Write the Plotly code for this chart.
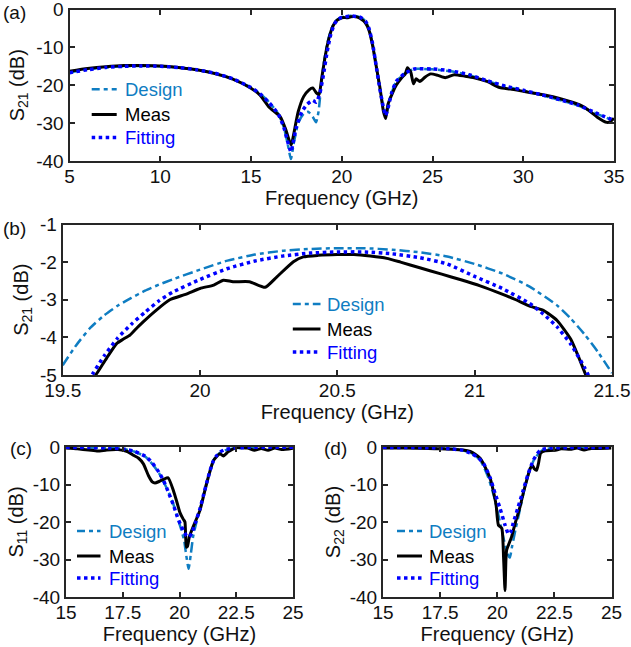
import plotly.graph_objects as go

# ---------------- data ----------------
# Panel (a): S21 wide band
a_design_f = [5, 6, 7, 8, 9, 10, 11, 12, 13, 14, 15, 15.5, 16, 16.5, 16.8, 17.0, 17.2, 17.35, 17.6, 17.9, 18.15, 18.4, 18.58, 18.72, 18.85, 19.0, 19.2, 19.4, 19.6, 19.8, 20.0, 20.5, 21.0, 21.3, 21.5, 21.7, 21.9, 22.1, 22.3, 22.42, 22.55, 22.75, 23.0, 23.5, 24.0, 25, 26, 27, 28, 29, 30, 31, 32, 33, 34, 35]
a_design_v = [-16.6, -15.8, -15.3, -15.0, -14.9, -15.0, -15.3, -15.9, -16.8, -18.3, -20.6, -22.2, -24.5, -27.5, -31.0, -35.0, -39.5, -35.5, -30.0, -27.5, -27.0, -28.3, -29.8, -27.0, -21.0, -14.5, -9.0, -5.5, -3.4, -2.5, -2.0, -1.65, -2.0, -3.0, -5.0, -9.0, -15.0, -21.0, -26.0, -28.0, -26.0, -22.0, -19.0, -16.8, -15.7, -15.8, -16.3, -17.3, -18.9, -20.3, -21.4, -22.6, -23.9, -25.3, -27.4, -29.4]

a_meas_f = [5, 6, 7, 8, 9, 10, 11, 12, 13, 14, 15, 15.5, 16, 16.3, 16.6, 16.9, 17.1, 17.22, 17.35, 17.6, 17.9, 18.2, 18.4, 18.6, 18.75, 18.9, 19.1, 19.3, 19.5, 19.7, 19.9, 20.1, 20.3, 20.5, 20.8, 21.0, 21.3, 21.5, 21.7, 21.9, 22.1, 22.3, 22.42, 22.55, 22.8, 23.0, 23.3, 23.5, 23.62, 23.8, 23.95, 24.1, 24.3, 24.6, 24.9, 25.3, 25.7, 26.2, 26.8, 27.3, 28.0, 28.7, 29.3, 30.0, 30.7, 31.3, 32.0, 32.7, 33.2, 33.6, 34.1, 34.6, 34.8, 35]
a_meas_v = [-16.3, -15.6, -15.1, -14.8, -14.8, -14.9, -15.3, -15.9, -16.9, -18.4, -20.8, -22.6, -25.8, -27.0, -28.2, -31.5, -34.5, -35.8, -33.0, -27.0, -23.0, -21.2, -20.7, -22.0, -22.5, -18.0, -12.0, -7.5, -4.5, -3.0, -2.4, -2.1, -2.2, -1.9, -1.9, -2.3, -3.5, -5.5, -9.5, -15.0, -20.5, -27.0, -28.8, -25.0, -22.0, -20.0, -18.0, -17.0, -15.4, -16.5, -19.6, -18.3, -19.0, -17.8, -17.0, -17.4, -18.0, -17.2, -17.6, -18.0, -19.0, -20.6, -21.0, -21.6, -22.2, -22.7, -23.5, -24.5, -25.4, -26.6, -28.5, -29.8, -29.6, -28.7]

a_fit_f = [5, 6, 7, 8, 9, 10, 11, 12, 13, 14, 15, 15.5, 16, 16.5, 16.8, 17.0, 17.2, 17.35, 17.5, 17.8, 18.1, 18.4, 18.6, 18.8, 19.0, 19.2, 19.4, 19.6, 19.8, 20.0, 20.5, 21.0, 21.3, 21.5, 21.7, 21.9, 22.1, 22.3, 22.42, 22.55, 22.75, 23.0, 23.5, 24.0, 25, 26, 27, 28, 29, 30, 31, 32, 33, 34, 35]
a_fit_v = [-16.7, -15.9, -15.3, -15.0, -14.9, -15.0, -15.3, -15.9, -16.8, -18.3, -20.6, -22.3, -24.6, -27.6, -31.0, -34.5, -37.6, -34.5, -31.0, -27.0, -25.0, -24.0, -24.5, -22.0, -17.0, -11.0, -6.5, -3.8, -2.6, -2.1, -1.73, -2.0, -3.0, -5.0, -9.0, -15.0, -21.0, -26.0, -28.0, -26.0, -22.0, -19.0, -16.8, -15.7, -15.7, -16.2, -17.2, -18.8, -20.2, -21.3, -22.5, -23.8, -25.2, -27.3, -29.3]

# Panel (b): S21 passband zoom
b_design_f = [19.5, 19.55, 19.6, 19.65, 19.7, 19.75, 19.8, 19.85, 19.9, 20.0, 20.1, 20.2, 20.3, 20.4, 20.5, 20.6, 20.7, 20.8, 20.9, 21.0, 21.1, 21.2, 21.3, 21.35, 21.4, 21.45, 21.5]
b_design_v = [-4.74, -4.2, -3.75, -3.42, -3.16, -2.95, -2.76, -2.6, -2.46, -2.2, -1.96, -1.8, -1.7, -1.65, -1.63, -1.63, -1.67, -1.74, -1.85, -2.05, -2.3, -2.65, -3.15, -3.5, -3.92, -4.4, -4.95]

b_meas_f = [19.6, 19.624, 19.66, 19.697, 19.72, 19.745, 19.77, 19.794, 19.84, 19.89, 19.95, 20.0, 20.05, 20.085, 20.12, 20.18, 20.237, 20.28, 20.34, 20.376, 20.43, 20.5, 20.56, 20.62, 20.68, 20.73, 20.8, 20.88, 20.95, 21.02, 21.1, 21.15, 21.2, 21.25, 21.3, 21.35, 21.38, 21.41]
b_meas_v = [-5.2, -4.96, -4.55, -4.16, -4.05, -3.94, -3.75, -3.58, -3.28, -3.0, -2.85, -2.7, -2.61, -2.48, -2.52, -2.52, -2.67, -2.39, -1.99, -1.86, -1.82, -1.8, -1.8, -1.84, -1.9, -2.0, -2.15, -2.32, -2.47, -2.63, -2.85, -3.0, -3.17, -3.28, -3.55, -4.05, -4.55, -5.1]

b_fit_f = [19.58, 19.61, 19.65, 19.7, 19.75, 19.8, 19.85, 19.9, 20.0, 20.1, 20.2, 20.3, 20.4, 20.5, 20.6, 20.7, 20.8, 20.9, 21.0, 21.1, 21.2, 21.25, 21.3, 21.35, 21.4, 21.42]
b_fit_v = [-5.3, -4.96, -4.5, -4.02, -3.65, -3.33, -3.03, -2.8, -2.46, -2.17, -1.97, -1.84, -1.76, -1.73, -1.73, -1.78, -1.88, -2.05, -2.38, -2.7, -3.1, -3.38, -3.72, -4.18, -4.8, -5.1]

# Panel (c): S11
c_design_f = [15, 16, 17, 17.5, 18.0, 18.5, 18.8, 19.1, 19.3, 19.54, 19.75, 19.9, 20.05, 20.2, 20.3, 20.4, 20.5, 20.6, 20.75, 20.9, 21.05, 21.2, 21.35, 21.5, 21.65, 21.8, 22.0, 22.4, 23, 24, 25]
c_design_v = [-0.1, -0.15, -0.3, -0.5, -1.2, -2.6, -4.5, -7.0, -9.3, -12.3, -15.6, -18.6, -21.5, -24.8, -29.0, -32.5, -28.5, -23.9, -20.0, -16.8, -13.0, -9.7, -6.3, -3.5, -2.3, -1.5, -0.9, -0.4, -0.2, -0.1, -0.1]

c_meas_f = [15, 15.5, 16.0, 16.4, 16.8, 17.3, 17.7, 17.97, 18.2, 18.41, 18.63, 18.8, 18.92, 19.1, 19.3, 19.5, 19.73, 19.9, 20.02, 20.17, 20.24, 20.3, 20.35, 20.43, 20.6, 20.9, 21.19, 21.5, 21.78, 21.93, 22.14, 22.5, 23.0, 23.3, 23.6, 23.9, 24.2, 24.5, 25]
c_meas_v = [-0.3, -0.5, -0.8, -1.1, -0.8, -0.7, -1.2, -2.2, -3.0, -4.5, -7.6, -9.3, -9.6, -9.2, -8.6, -8.2, -11.6, -15.0, -17.5, -19.3, -20.0, -26.7, -26.5, -24.0, -21.3, -16.9, -9.8, -3.6, -1.8, -2.4, -1.3, -0.2, -0.3, -0.9, -0.4, -0.9, -0.3, -0.7, -0.3]

c_fit_f = [15, 16, 17, 17.5, 18.0, 18.5, 18.8, 19.1, 19.3, 19.54, 19.75, 19.9, 20.05, 20.2, 20.3, 20.42, 20.55, 20.7, 20.9, 21.05, 21.2, 21.35, 21.5, 21.65, 21.8, 22.0, 22.4, 23, 25]
c_fit_v = [-0.1, -0.15, -0.3, -0.5, -1.1, -2.5, -4.2, -6.8, -9.0, -12.5, -15.8, -18.5, -20.8, -22.6, -23.6, -24.1, -22.8, -20.2, -16.5, -13.0, -9.5, -6.2, -3.6, -2.2, -1.3, -0.7, -0.3, -0.1, -0.1]

# Panel (d): S22
d_design_f = [15, 17, 18, 18.5, 19.0, 19.3, 19.6, 19.85, 20.1, 20.3, 20.45, 20.55, 20.65, 20.8, 21.0, 21.2, 21.4, 21.6, 21.8, 22.0, 22.5, 25]
d_design_v = [-0.1, -0.2, -0.5, -0.9, -2.0, -4.0, -8.0, -13.0, -19.5, -25.0, -28.5, -29.5, -26.5, -22.0, -16.5, -11.0, -6.5, -3.5, -1.8, -0.8, -0.2, -0.1]

d_meas_f = [15, 16, 17, 17.5, 18, 18.5, 18.82, 19.05, 19.25, 19.53, 19.7, 19.82, 19.95, 20.05, 20.2, 20.28, 20.34, 20.38, 20.41, 20.5, 20.63, 20.8, 21.0, 21.15, 21.29, 21.45, 21.55, 21.62, 21.72, 21.8, 21.9, 22.1, 22.5, 22.8, 23.2, 23.5, 23.8, 24.1, 24.5, 25]
d_meas_v = [-0.3, -0.3, -0.4, -0.5, -0.6, -0.8, -1.2, -2.0, -3.0, -6.1, -8.6, -11.5, -15.5, -20.8, -21.7, -30.0, -38.3, -30.0, -27.5, -26.0, -23.9, -20.0, -15.9, -12.0, -8.8, -5.6, -5.0, -5.8, -6.2, -4.5, -1.6, -1.0, -0.9, -0.5, -0.6, -0.3, -0.8, -0.4, -0.4, -0.3]

d_fit_f = [15, 17, 18, 18.5, 18.9, 19.15, 19.4, 19.7, 19.9, 20.12, 20.34, 20.49, 20.58, 20.7, 20.92, 21.14, 21.36, 21.58, 21.75, 21.9, 22.3, 25]
d_fit_v = [-0.1, -0.2, -0.5, -0.9, -1.8, -2.8, -4.4, -8.4, -12.3, -16.3, -20.8, -23.2, -22.8, -20.3, -15.9, -11.5, -7.0, -3.5, -1.8, -0.8, -0.3, -0.1]

# tick labels
a_xticks = [5, 10, 15, 20, 25, 30, 35]
a_xlabels = ["5", "10", "15", "20", "25", "30", "35"]
a_yticks = [-40, -30, -20, -10, 0]
a_ylabels = ["-40", "-30", "-20", "-10", "0"]
b_xticks = [19.5, 20, 20.5, 21, 21.5]
b_xlabels = ["19.5", "20", "20.5", "21", "21.5"]
b_yticks = [-5, -4, -3, -2, -1]
b_ylabels = ["-5", "-4", "-3", "-2", "-1"]
cd_xticks = [15, 17.5, 20, 22.5, 25]
cd_xlabels = ["15", "17.5", "20", "22.5", "25"]
cd_yticks = [-40, -30, -20, -10, 0]
cd_ylabels = ["-40", "-30", "-20", "-10", "0"]

series_names = ["Design", "Meas", "Fitting"]

# ---------------- style ----------------
W, H = 631, 647
FONT = "Arial, 'Liberation Sans', sans-serif"
C_DESIGN = "#0F7DC2"
C_MEAS = "#000000"
C_FIT = "#0000FF"
AXC = "#262626"
TXT = "#111111"

colors = {"Design": C_DESIGN, "Meas": C_MEAS, "Fitting": C_FIT}
styles = {
    "Design": dict(color=C_DESIGN, width=2.5, dash="10px,4px,4px,4px"),
    "Meas": dict(color=C_MEAS, width=3),
    "Fitting": dict(color=C_FIT, width=3.5, dash="dot"),
}
legend_dash = {"Design": "8px,4px,4px,4px", "Meas": "solid", "Fitting": "dot"}


def px_x(p):
    return p / W


def px_y(p):
    return 1 - p / H


fig = go.Figure()

panels = [
    ("", [(a_design_f, a_design_v), (a_meas_f, a_meas_v), (a_fit_f, a_fit_v)]),
    ("2", [(b_design_f, b_design_v), (b_meas_f, b_meas_v), (b_fit_f, b_fit_v)]),
    ("3", [(c_design_f, c_design_v), (c_meas_f, c_meas_v), (c_fit_f, c_fit_v)]),
    ("4", [(d_design_f, d_design_v), (d_meas_f, d_meas_v), (d_fit_f, d_fit_v)]),
]

for suffix, data in panels:
    for nm, (fx, fv) in zip(series_names, data):
        fig.add_trace(go.Scatter(
            x=fx, y=fv, mode="lines", name=nm,
            line=dict(shape="spline", smoothing=0.5, **styles[nm]),
            xaxis="x" + suffix, yaxis="y" + suffix,
            showlegend=False, hoverinfo="skip",
        ))


def axis(domain, rng, tv, tt, anchor, title=None, standoff=4, is_x=False):
    d = dict(
        domain=domain, range=rng, tickvals=tv, ticktext=tt, anchor=anchor,
        showline=True, linecolor=AXC, linewidth=2, mirror="ticks",
        ticks="inside", ticklen=5, tickwidth=1.5, tickcolor=AXC,
        showgrid=False, zeroline=False, automargin=False,
        ticklabeloverflow="allow",
        tickfont=dict(family=FONT, size=19, color=TXT),
    )
    if is_x:
        d["ticklabelstandoff"] = -3
    if title:
        d["title"] = dict(text=title, font=dict(family=FONT, size=20, color=TXT), standoff=standoff)
    return d


# plot area pixel boxes (left, right, top, bottom)
boxA = (69.5, 614, 9.5, 161)
boxB = (62.7, 612, 224.5, 375)
boxC = (66, 293, 447, 597)
boxD = (383, 611.5, 447, 597)


def dom(box):
    l, r, t, b = box
    return [px_x(l), px_x(r)], [px_y(b), px_y(t)]


xa, ya = dom(boxA)
xb, yb = dom(boxB)
xc, yc = dom(boxC)
xd, yd = dom(boxD)

freq = "Frequency (GHz)"
fig.update_layout(
    template="none",
    xaxis=axis(xa, [5, 35], a_xticks, a_xlabels, "y", freq, 0, True),
    yaxis=axis(ya, [-40, 0], a_yticks, a_ylabels, "x", "S<sub>21</sub> (dB)", 6),
    xaxis2=axis(xb, [19.5, 21.5], b_xticks, b_xlabels, "y2", freq, 1, True),
    yaxis2=axis(yb, [-5, -1], b_yticks, b_ylabels, "x2", "S<sub>21</sub> (dB)", 6),
    xaxis3=axis(xc, [15, 25], cd_xticks, cd_xlabels, "y3", freq, 1, True),
    yaxis3=axis(yc, [-40, 0], cd_yticks, cd_ylabels, "x3", "S<sub>11</sub> (dB)", 4),
    xaxis4=axis(xd, [15, 25], cd_xticks, cd_xlabels, "y4", freq, 1, True),
    yaxis4=axis(yd, [-40, 0], cd_yticks, cd_ylabels, "x4", "S<sub>22</sub> (dB)", 4),
)

# legends drawn as key lines + coloured labels (paper coordinates, pixels)
legend_boxes = [
    # (line x0, line x1, text x, [row y centres])
    (91.7, 116.7, 122.5, [89.3, 114.5, 137.5]),
    (292.8, 320.5, 324.5, [304, 329, 352]),
    (77, 100.5, 106.5, [531, 556, 578]),
    (397, 422, 427.5, [531, 556, 578]),
]
shapes = []
for x0, x1, tx, rows in legend_boxes:
    for nm, yy in zip(series_names, rows):
        shapes.append(dict(
            type="line", xref="paper", yref="paper",
            x0=px_x(x0), x1=px_x(x1), y0=px_y(yy), y1=px_y(yy),
            line=dict(color=colors[nm], width=styles[nm]["width"], dash=legend_dash[nm]),
        ))
        fig.add_annotation(text=nm, x=px_x(tx), y=px_y(yy), xref="paper", yref="paper",
                           xanchor="left", yanchor="middle", showarrow=False,
                           font=dict(family=FONT, size=18.5, color=colors[nm]))
fig.update_layout(shapes=shapes)

labels = [("(a)", 1, 12), ("(b)", 1, 228), ("(c)", 8, 448), ("(d)", 322, 448)]
for txt, x, y in labels:
    fig.add_annotation(text=txt, x=px_x(x), y=px_y(y), xref="paper", yref="paper",
                       xanchor="left", yanchor="middle", showarrow=False,
                       font=dict(family=FONT, size=19, color=TXT))

fig.update_layout(
    width=W, height=H, margin=dict(l=0, r=0, t=0, b=0),
    paper_bgcolor="white", plot_bgcolor="white",
    font=dict(family=FONT, color=TXT),
    showlegend=False,
)

fig.write_html(
    "out.html",
    config={"displayModeBar": False},
    post_script="document.body.style.margin='0';document.body.style.overflow='hidden';",
)
